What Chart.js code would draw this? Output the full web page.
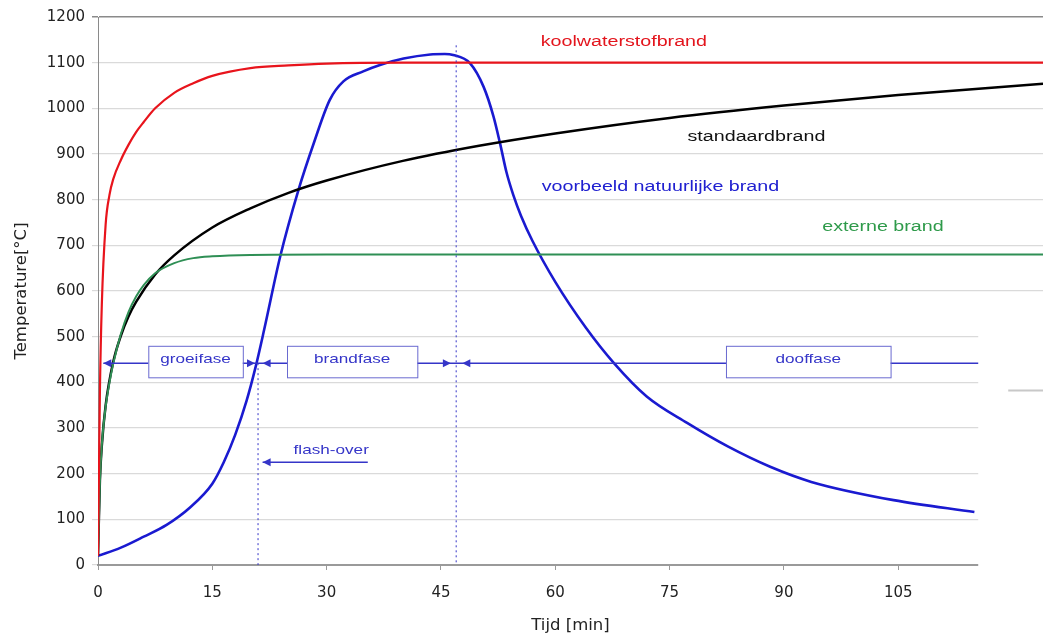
<!DOCTYPE html>
<html>
<head>
<meta charset="utf-8">
<script src="https://cdn.jsdelivr.net/npm/chart.js@4.4.1/dist/chart.umd.min.js"></script>
<style>
  html, body { margin: 0; padding: 0; background: #fff; }
  #wrap { width: 1043px; height: 639px; }
</style>
</head>
<body>
<div id="wrap"><canvas id="fireChart" width="1043" height="639"></canvas></div>
<script>
// koolwaterstofbrand (red)
const hcTime = [0, 0.25, 0.5, 1, 1.5, 2, 3, 4, 5, 6, 7.5, 10, 12.5, 15, 20, 25, 30, 40, 50, 124];
const hcTemp = [20, 380, 570, 745, 810, 845, 887, 920, 948, 970, 1000, 1034, 1055, 1071, 1088, 1094, 1098, 1100, 1100, 1100];

// standaardbrand (black)
const isoTime = [0, 0.25, 0.5, 1, 2, 3, 4, 5, 7.5, 10, 15, 20, 25, 30, 40, 50, 60, 75, 90, 105, 124];
const isoTemp = [20, 185, 261, 349, 445, 502, 544, 576, 636, 678, 739, 781, 815, 842, 885, 918, 945, 979, 1006, 1029, 1054];

// externe brand (green)
const extTime = [0, 0.25, 0.5, 1, 1.5, 2, 3, 4, 5, 6, 7.5, 10, 12.5, 15, 20, 30, 124];
const extTemp = [20, 182, 263, 346, 399, 441, 506, 554, 588, 613, 639, 661, 672, 676, 679, 680, 680];

// voorbeeld natuurlijke brand (blue)
const natTime = [0, 3, 6, 9, 12, 15, 16.5, 18, 19.5, 20.7, 21.8, 23.9, 26.3, 28.3, 30.4, 32.2, 34.8, 37, 40.1, 43.6, 45.5, 46.6,
  48.8, 50.6, 51.9, 52.8, 53.6, 54.5, 55.5, 57, 60, 64, 67.7, 72, 77.3, 82.7, 88.2, 93.6, 104.4, 115];
const natTemp = [20, 38, 62, 88, 125, 178, 225, 285, 360, 435, 515, 675, 821, 923, 1018, 1059, 1081, 1095, 1109, 1118, 1119, 1117,
  1099, 1047, 982, 920, 860, 810, 765, 710, 620, 520, 442, 369, 311, 259, 215, 182, 142, 116];

// phases
const phaseNames = ['groeifase', 'brandfase', 'dooffase'];
const phaseBounds = [21, 47];   // flash-over, einde brandfase [min]

const toPoints = (xs, ys) => xs.map((x, i) => ({ x: x, y: ys[i] }));

const FONT = '"Liberation Sans", Arial, sans-serif';
const TICKFONT = '"DejaVu Sans", sans-serif';
const ANNO = '#3535c8';
const STRETCH = 1.27;   // the picture's text is wide

function arrowHead(ctx, x, y, dir) {
  ctx.beginPath();
  ctx.moveTo(x, y);
  ctx.lineTo(x - dir * 8, y - 4);
  ctx.lineTo(x - dir * 8, y + 4);
  ctx.closePath();
  ctx.fill();
}

function wideText(ctx, text, x, y) {
  ctx.save();
  ctx.translate(x, y);
  ctx.scale(STRETCH, 1);
  ctx.fillText(text, 0, 0);
  ctx.restore();
}

const annotations = {
  id: 'annotations',
  afterDatasetsDraw(chart) {
    const ctx = chart.ctx;
    const xs = chart.scales.x, ys = chart.scales.y;
    const px = v => xs.getPixelForValue(v);
    const py = v => ys.getPixelForValue(v);
    ctx.save();

    // dotted phase boundaries
    ctx.strokeStyle = ANNO;
    ctx.lineWidth = 1;
    ctx.setLineDash([2, 3]);
    ctx.beginPath();
    ctx.moveTo(px(phaseBounds[0]), py(442));
    ctx.lineTo(px(phaseBounds[0]), py(0));
    ctx.moveTo(px(phaseBounds[1]), py(1138));
    ctx.lineTo(px(phaseBounds[1]), py(0));
    ctx.stroke();
    ctx.setLineDash([]);

    // phase arrow line
    const ly = py(442);
    ctx.lineWidth = 1.5;
    ctx.beginPath();
    ctx.moveTo(px(0.7), ly);
    ctx.lineTo(px(124), ly);
    ctx.stroke();
    ctx.fillStyle = ANNO;
    arrowHead(ctx, px(0.7), ly, -1);
    arrowHead(ctx, px(20.6), ly, 1);
    arrowHead(ctx, px(21.6), ly, -1);
    arrowHead(ctx, px(46.3), ly, 1);
    arrowHead(ctx, px(47.8), ly, -1);

    // phase boxes
    const boxes = [[6.6, 19], [24.8, 41.9], [82.4, 104]];
    ctx.font = '13.5px ' + FONT;
    ctx.textAlign = 'center';
    ctx.textBaseline = 'middle';
    boxes.forEach((b, i) => {
      const x0 = px(b[0]), x1 = px(b[1]);
      const y0 = py(480), y1 = py(411);
      ctx.fillStyle = '#fff';
      ctx.fillRect(x0, y0, x1 - x0, y1 - y0);
      ctx.strokeStyle = '#6a6ad0';
      ctx.lineWidth = 1;
      ctx.strokeRect(x0 + 0.5, y0 + 0.5, x1 - x0, y1 - y0);
      ctx.fillStyle = ANNO;
      wideText(ctx, phaseNames[i], (x0 + x1) / 2, (y0 + y1) / 2 - 2);
    });

    // flash-over
    wideText(ctx, 'flash-over', px(30.6), py(252));
    ctx.strokeStyle = ANNO;
    ctx.lineWidth = 1.5;
    ctx.beginPath();
    ctx.moveTo(px(21.6), py(225));
    ctx.lineTo(px(35.4), py(225));
    ctx.stroke();
    arrowHead(ctx, px(21.6), py(225), -1);

    // curve labels
    ctx.font = '15.5px ' + FONT;
    ctx.fillStyle = '#e3141c';
    wideText(ctx, 'koolwaterstofbrand', px(69), py(1145));
    ctx.fillStyle = '#111';
    wideText(ctx, 'standaardbrand', px(86.4), py(937));
    ctx.fillStyle = '#2020d0';
    wideText(ctx, 'voorbeeld natuurlijke brand', px(73.8), py(828));
    ctx.fillStyle = '#2e9a4a';
    wideText(ctx, 'externe brand', px(103), py(740));
    ctx.restore();
  },
  afterDraw(chart) {
    // lower right part of the picture is cut off
    const ctx = chart.ctx;
    const x0 = chart.scales.x.getPixelForValue(115.5);
    const y0 = chart.scales.y.getPixelForValue(545);
    ctx.save();
    ctx.fillStyle = '#fff';
    ctx.fillRect(x0, y0, chart.width - x0, chart.height - y0);
    ctx.strokeStyle = '#c8c8c8';
    ctx.lineWidth = 2;
    ctx.beginPath();
    ctx.moveTo(x0 + 30, chart.scales.y.getPixelForValue(382));
    ctx.lineTo(chart.width, chart.scales.y.getPixelForValue(382));
    ctx.stroke();
    ctx.restore();
  }
};

new Chart(document.getElementById('fireChart'), {
  type: 'line',
  data: {
    datasets: [
      { label: 'koolwaterstofbrand', data: toPoints(hcTime, hcTemp), borderColor: '#e8141c', borderWidth: 2.2 },
      { label: 'externe brand', data: toPoints(extTime, extTemp), borderColor: '#2f8f55', borderWidth: 2 },
      { label: 'standaardbrand', data: toPoints(isoTime, isoTemp), borderColor: '#000', borderWidth: 2.5 },
      { label: 'voorbeeld natuurlijke brand', data: toPoints(natTime, natTemp), borderColor: '#1a1ad0', borderWidth: 2.6 }
    ]
  },
  options: {
    responsive: false,
    animation: false,
    elements: {
      point: { radius: 0 },
      line: { cubicInterpolationMode: 'monotone', fill: false }
    },
    layout: { padding: { top: 17, right: 0, left: 0, bottom: 0 } },
    plugins: { legend: { display: false }, tooltip: { enabled: false } },
    scales: {
      x: {
        type: 'linear',
        min: 0,
        max: 124,
        afterFit: s => { s.height = 74; s.paddingRight = 0; },
        border: { color: '#9a9a9a', width: 2 },
        grid: { drawOnChartArea: false, drawTicks: true, tickLength: 5, color: '#9a9a9a' },
        ticks: {
          stepSize: 15, padding: 14, color: '#222', font: { family: TICKFONT, size: 15 },
          callback: v => (v > 115 ? '' : String(v))
        },
        title: { display: true, text: 'Tijd [min]', color: '#222', font: { family: TICKFONT, size: 16.5 }, padding: { top: 0, bottom: 3 } }
      },
      y: {
        min: 0,
        max: 1200,
        afterFit: s => { s.width = 98; },
        border: { color: '#8a8a8a', width: 1 },
        grid: {
          color: ctx => (ctx.tick && ctx.tick.value === 1200 ? '#8a8a8a' : '#dadada'),
          lineWidth: ctx => (ctx.tick && ctx.tick.value === 1200 ? 1.5 : 1.2),
          tickLength: 6
        },
        ticks: { stepSize: 100, padding: 7, color: '#222', font: { family: TICKFONT, size: 15 }, callback: v => String(v) },
        title: { display: true, text: 'Temperature[°C]', color: '#222', font: { family: TICKFONT, size: 16.5 }, padding: { top: 12, bottom: 0 } }
      }
    }
  },
  plugins: [annotations]
});
</script>
</body>
</html>
